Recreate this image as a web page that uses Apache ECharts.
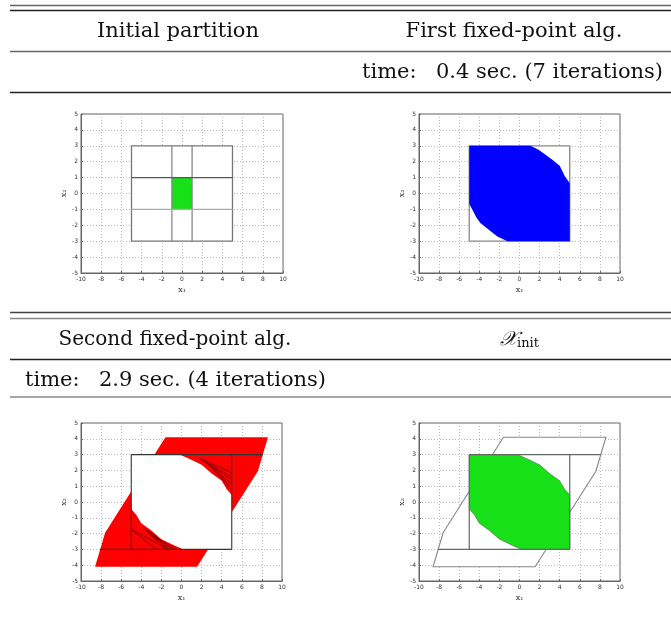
<!DOCTYPE html>
<html><head><meta charset="utf-8">
<script src="https://cdn.jsdelivr.net/npm/echarts@6/dist/echarts.min.js"></script>
<style>html,body{margin:0;padding:0;background:#fff}#c{width:671px;height:619px}</style>
</head><body><div id="c"></div>
<script>
// ---- data ----
const xTicks = [-10,-8,-6,-4,-2,0,2,4,6,8,10];
const yTicks = [-5,-4,-3,-2,-1,0,1,2,3,4,5];
const headers = ["Initial partition", "First fixed-point alg.", "Second fixed-point alg.", "X_init"];
const timeLabel = "time:";
const times = ["0.4 sec. (7 iterations)", "2.9 sec. (4 iterations)"];

// Plot 1: initial partition
const box = [[-5,3],[5,3],[5,-3],[-5,-3]];
const initCell = [[-1,1],[1,1],[1,-1],[-1,-1]];
const initLinesV1 = [[-1,3],[-1,-3]];
const initLinesV2 = [[1,3],[1,-3]];
const initLinesH1 = [[-5,1],[5,1]];
const initLinesH2 = [[-5,-1],[5,-1]];

// Plot 2: first fixed-point set
const firstSet = [[-5,3],[1.1,3],[1.9,2.75],[3.3,2.1],[4,1.75],[4.5,1.1],[5,0.65],[5,-3],
  [-1.2,-3],[-2.2,-2.7],[-3.9,-1.85],[-4.3,-1.5],[-5,-0.65]];

// Plots 3/4: outer partition region and final invariant set
const outerRegion = [[-1.6,4.1],[8.6,4.1],[7.6,1.95],[1.55,-4.1],[-8.6,-4.1],[-7.6,-1.95]];
const initSet = [[-5,3],[-0.2,3],[0.7,2.75],[2,2.35],[3,1.8],[4,1.35],[4.5,0.8],[5,0.45],[5,-3],
  [0.2,-3],[-0.7,-2.75],[-2,-2.35],[-3,-1.8],[-4,-1.35],[-4.5,-0.8],[-5,-0.45]];
const partTop = [[-5,3],[8.1,3]];
const partBottom = [[-8.1,-3],[5,-3]];
const partRight = [[5,3],[5,-3]];
const partLeft = [[-5,3],[-5,-3]];
const fanLines = [
  [[1.7,2.8],[5,1.85]], [[1.9,2.72],[5,1.6]], [[2.2,2.6],[5,1.4]], [[2.5,2.45],[5,1.15]],
  [[3,2.2],[4.9,0.85]], [[3.4,2.0],[4.8,1.0]],
  [[-5,-1.74],[-1.3,-3]], [[-5,-1.74],[-2.5,-3]], [[-3.8,-1.6],[-0.8,-3]],
  [[-3.6,-1.75],[-1.1,-3]], [[-3.3,-1.95],[-1.5,-2.95]], [[-3.0,-2.1],[-0.5,-3]]
];

// ---- chart ----
const grids = [
  {left:81, top:114, width:202, height:159},
  {left:419, top:114, width:201, height:159},
  {left:81, top:423, width:201, height:158},
  {left:419, top:423, width:201, height:158}
];
const lblStyle = {fontSize:6, color:'#333', fontFamily:'DejaVu Sans'};
const xAxes = grids.map((g,i)=>({gridIndex:i, type:'value', min:xTicks[0], max:xTicks[xTicks.length-1], interval:2,
  name:'x\u2081', nameLocation:'middle', nameGap:13, nameTextStyle:{fontSize:8, color:'#333', fontFamily:'DejaVu Serif'},
  axisLine:{onZero:false, lineStyle:{color:'#666', width:1}}, axisTick:{inside:true, length:2, lineStyle:{color:'#666'}},
  axisLabel:{...lblStyle, margin:3}, splitLine:{show:true, lineStyle:{type:[1,2], color:'#aaa', width:0.8}}}));
const yAxes = grids.map((g,i)=>({gridIndex:i, type:'value', min:yTicks[0], max:yTicks[yTicks.length-1], interval:1,
  name:'x\u2082', nameLocation:'middle', nameGap:13, nameRotate:90, nameTextStyle:{fontSize:8, color:'#333', fontFamily:'DejaVu Serif'},
  axisLine:{onZero:false, lineStyle:{color:'#666', width:1}}, axisTick:{inside:true, length:2, lineStyle:{color:'#666'}},
  axisLabel:{...lblStyle, margin:3}, splitLine:{show:true, lineStyle:{type:[1,2], color:'#aaa', width:0.8}}}));

function shape(gi, pts, opt){
  return {type:'custom', xAxisIndex:gi, yAxisIndex:gi, data:pts, silent:true, animation:false, z: opt.z || 2,
    renderItem:function(params, api){
      if(params.dataIndex!==0) return null;
      const p = pts.map(v=>api.coord(v));
      if(opt.closed) return {type:'polygon', shape:{points:p}, style:{fill:opt.fill||'none', stroke:opt.stroke||null, lineWidth:opt.lw||1}};
      return {type:'polyline', shape:{points:p}, style:{fill:'none', stroke:opt.stroke, lineWidth:opt.lw||1}};
    }};
}
const series = [];
// plot 1
series.push(shape(0, box, {closed:true, fill:'#fff', stroke:'#777', lw:1.3, z:2}));
series.push(shape(0, initCell, {closed:true, fill:'#18e018', z:3}));
series.push(shape(0, initLinesV1, {stroke:'#888', lw:1.3, z:4}));
series.push(shape(0, initLinesV2, {stroke:'#888', lw:1.3, z:4}));
series.push(shape(0, initLinesH1, {stroke:'#555', lw:1.2, z:4}));
series.push(shape(0, initLinesH2, {stroke:'#aaa', lw:1.2, z:4}));
// plot 2
series.push(shape(1, box, {closed:true, fill:'#fff', stroke:'#888', lw:1.3, z:2}));
series.push(shape(1, firstSet, {closed:true, fill:'#0000ff', z:3}));
// plot 3
series.push(shape(2, outerRegion, {closed:true, fill:'#ff0000', z:2}));
series.push(shape(2, initSet, {closed:true, fill:'#ffffff', z:3}));
fanLines.forEach(l=>series.push(shape(2, l, {stroke:'#400', lw:0.6, z:4})));
[partTop, partBottom, partRight, partLeft].forEach(l=>series.push(shape(2, l, {stroke:'#333', lw:1.1, z:5})));
// plot 4
series.push(shape(3, outerRegion, {closed:true, fill:'#fff', stroke:'#888', lw:1.1, z:2}));
series.push(shape(3, box, {closed:true, fill:'#fff', z:3}));
series.push(shape(3, initSet, {closed:true, fill:'#18e018', stroke:'#666', lw:0.6, z:4}));
[partTop, partBottom, partRight, partLeft].forEach(l=>series.push(shape(3, l, {stroke:'#666', lw:1.2, z:5})));

const serif = 'DejaVu Serif';
const tf = {fontFamily:serif, fontSize:21, fill:'#111'};
function hline(y, color, w){ return {type:'line', shape:{x1:10,y1:y,x2:671,y2:y}, style:{stroke:color, lineWidth:w}, silent:true}; }
const graphic = [
  hline(5.5,'#666',1.5), hline(10.5,'#222',1.5), hline(51.5,'#666',1.5), hline(92.5,'#222',1.3),
  hline(312.5,'#444',1.5), hline(318.5,'#888',1.5), hline(359.5,'#222',1.3), hline(397,'#888',1.5),
  {type:'text', x:178, y:32, style:{...tf, text:headers[0], align:'center', verticalAlign:'middle'}},
  {type:'text', x:514, y:32, style:{...tf, text:headers[1], align:'center', verticalAlign:'middle'}},
  {type:'text', x:362, y:73, style:{...tf, text:timeLabel, align:'left', verticalAlign:'middle'}},
  {type:'text', x:436, y:73, style:{...tf, text:times[0], align:'left', verticalAlign:'middle'}},
  {type:'text', x:175, y:340, style:{...tf, fontSize:20, text:headers[2], align:'center', verticalAlign:'middle'}},
  {type:'text', x:500, y:340, style:{text:'{a|\uD835\uDCB3}{b|init}', align:'left', verticalAlign:'middle',
     rich:{a:{fontFamily:serif, fontSize:20, fill:'#111', fontStyle:'italic'}, b:{fontFamily:serif, fontSize:13, fill:'#111', padding:[8,0,0,0]}}}},
  {type:'text', x:25, y:381, style:{...tf, text:timeLabel, align:'left', verticalAlign:'middle'}},
  {type:'text', x:99, y:381, style:{...tf, text:times[1], align:'left', verticalAlign:'middle'}}
];

const chart = echarts.init(document.getElementById('c'), null, {renderer:'canvas'});
chart.setOption({
  animation:false, backgroundColor:'#fff',
  grid: grids.map(g=>({...g, show:true, borderColor:'#666', borderWidth:1, backgroundColor:'transparent'})),
  xAxis: xAxes, yAxis: yAxes, series: series, graphic: graphic
});
</script></body></html>
